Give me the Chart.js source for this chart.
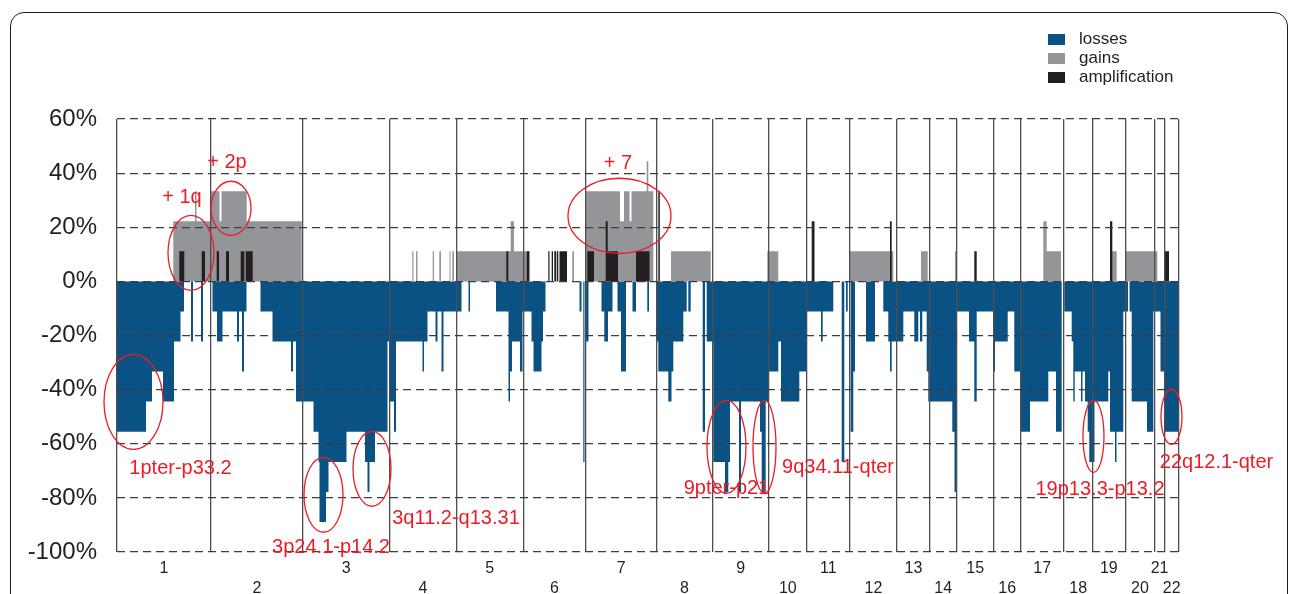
<!DOCTYPE html>
<html>
<head>
<meta charset="utf-8">
<title>Copy number changes</title>
<script src="https://cdn.jsdelivr.net/npm/chart.js"></script>
<style>
  html, body { margin: 0; padding: 0; background: #fff; overflow: hidden; }
  #wrap { position: relative; width: 1293px; height: 594px; }
  #frame {
    position: absolute; left: 10px; top: 12px; width: 1278px; height: 700px;
    border: 1.6px solid #231f20; border-radius: 14px; box-sizing: border-box;
  }
  #chart { position: absolute; left: 0; top: 0; }
</style>
</head>
<body>
<div id="wrap">
  <div id="frame"></div>
  <canvas id="chart" width="1293" height="594"></canvas>
</div>
<script>
// Genome axis: probe position along the genome (0 .. 1062)
const genomeEnd = 1062;
const chromNames = ["1", "2", "3", "4", "5", "6", "7", "8", "9", "10", "11",
    "12", "13", "14", "15", "16", "17", "18", "19", "20", "21", "22"];
const chromBounds = [0, 94, 185.7, 272.5, 339.3, 406.3, 468.7, 539.5, 595.3,
    652, 689.7, 733, 780, 813, 839.3, 877, 903.3, 947, 975.3, 1008.3, 1037.7,
    1047.5, 1062];

// Percentage tick labels
const yTicks = [60, 40, 20, 0, -20, -40, -60, -80, -100];

// Losses: [start, end, % of cases]
const lossSegments = [
    [0, 29, -55.6], [29, 35, -44.4], [35, 46, -33.3], [46, 57, -44.4],
    [57, 63.5, -22.2], [63.5, 67, -11.1], [74, 76, -22.2], [84, 86, -22.2],
    [95.5, 100, -11.1], [100, 105.5, -22.2], [105.5, 120, -11.1], [120, 122, -22.2],
    [122, 125, -11.1], [125, 127, -33.3], [127, 129.5, -11.1],
    [143.5, 155.5, -11.1], [155.5, 174, -22.2], [174, 176, -33.3], [176, 179, -22.2],
    [179, 196.5, -44.4], [196.5, 201.5, -55.6], [201.5, 202.5, -66.7],
    [202.5, 209, -88.9], [209, 211.5, -77.8], [211.5, 229.5, -66.7],
    [229.5, 248, -55.6], [248, 250.5, -66.7], [250.5, 252.5, -77.8],
    [252.5, 258, -66.7], [258, 270.5, -55.6], [270.5, 273, -22.2],
    [273, 277, -44.4], [277, 279, -55.6], [279, 305.5, -22.2], [305.5, 307, -33.3],
    [307, 310.5, -22.2], [310.5, 318.5, -11.1], [318.5, 320.5, -22.2],
    [320.5, 324.5, -11.1], [324.5, 326.5, -33.3], [326.5, 338.5, -11.1],
    [338.5, 344.5, -11.1], [351.5, 353, -11.1],
    [379, 391.5, -11.1], [391.5, 393, -44.4], [393, 395, -33.3], [395, 403, -22.2],
    [403, 405.5, -33.3], [405.5, 414.5, -11.1], [414.5, 416.5, -22.2],
    [416.5, 424.5, -33.3], [424.5, 426, -22.2], [426, 428.5, -11.1],
    [462.5, 464.5, -11.1], [466.3, 467.5, -66.7], [468.5, 471.5, -22.2],
    [484.5, 487.3, -11.1], [487.3, 491, -22.2], [491, 495.5, -11.1],
    [500.5, 504, -11.1], [504, 509, -33.3], [515.5, 519, -11.1], [530.3, 532, -11.1],
    [539.5, 541.3, -22.2], [541.3, 551.3, -33.3], [551.3, 554.5, -44.4],
    [554.5, 556.3, -33.3], [556.3, 566.3, -22.2], [566.3, 569.7, -11.1],
    [571.3, 573.7, -11.1], [585.7, 588, -55.6], [589.7, 596.3, -22.2],
    [596.3, 608, -66.7], [608, 611.3, -77.8], [611.3, 613, -66.7], [613, 622, -44.4],
    [622, 624, -77.8], [624, 643, -44.4], [643, 644.7, -55.6], [644.7, 648.7, -77.8],
    [648.7, 651.3, -44.4], [651.3, 661.3, -33.3], [661.3, 664, -22.2],
    [664, 682.3, -44.4], [682.3, 689.7, -33.3],
    [689.7, 704, -11.1], [704, 705.7, -22.2], [705.7, 716.3, -11.1],
    [724.7, 727.3, -66.7], [729, 730.7, -11.1], [733.7, 736.3, -55.6],
    [736.3, 738, -33.3], [749, 758, -22.2], [766.3, 771.3, -11.1],
    [771.3, 773, -22.2], [773, 774.7, -33.3], [774.7, 786.3, -22.2],
    [786.3, 797.3, -11.1], [797.3, 801.3, -22.2], [801.3, 803, -11.1],
    [803, 805.3, -22.2], [805.3, 809.7, -11.1], [809.7, 811.3, -33.3],
    [811.3, 835.3, -44.4], [835.3, 837.5, -55.6], [837.5, 839, -77.8],
    [839, 852, -11.1], [852, 857.3, -22.2], [857.3, 859.7, -44.4],
    [859.7, 876.3, -11.1], [876.3, 878, -33.3], [878, 890.7, -22.2],
    [890.7, 897.3, -11.1], [897.3, 903, -33.3], [903, 913, -55.6],
    [913, 931.3, -44.4], [931.3, 939, -33.3], [939, 944.7, -55.6],
    [947.3, 954.7, -11.1], [954.7, 956.3, -22.2], [956.3, 957.7, -44.4],
    [957.7, 964, -33.3], [964, 965.5, -44.4], [965.5, 968, -33.3],
    [968, 970.7, -44.4], [970.7, 972.3, -55.6], [972.3, 977.5, -66.7],
    [977.5, 991.3, -44.4], [991.3, 993, -33.3], [993, 998, -55.6],
    [998, 999.5, -66.7], [999.5, 1006.3, -55.6], [1006.3, 1011, -11.1],
    [1012.5, 1014.7, -11.1], [1014.7, 1030, -44.4], [1030, 1036.3, -55.6],
    [1036.3, 1043.5, -11.1], [1043.5, 1047.5, -33.3], [1047.5, 1061.5, -55.6],
];

// Gains: [start, end, % of cases]
const gainSegments = [
    [56.3, 78, 22.2], [78, 79.5, 33.3], [79.5, 94, 22.2], [94, 102.5, 33.3],
    [102.5, 104.5, 22.2], [104.5, 129.7, 33.3], [129.7, 184.7, 22.2],
    [295.3, 296.5, 11.1], [299, 300.5, 11.1], [315.7, 317, 11.1],
    [322.3, 324, 11.1], [332.5, 333.5, 11.1], [335.3, 337, 11.1],
    [339.7, 393.7, 11.1], [393.7, 397, 22.2], [397, 412.5, 11.1],
    [455.3, 457, 11.1], [468.7, 503, 33.3], [503, 507, 22.2], [507, 512.5, 33.3],
    [512.5, 514.5, 22.2], [514.5, 529.7, 33.3], [529.7, 531.3, 44.4],
    [531.3, 536.3, 33.3], [554, 593.7, 11.1], [650.3, 661.3, 11.1],
    [733, 776.3, 11.1], [804, 810.7, 11.1], [838, 839.3, 11.1],
    [926.3, 929.7, 22.2], [929.7, 944, 11.1], [993, 999.7, 11.1],
    [1008.3, 1040.3, 11.1],
];

// Amplifications: [start, end, % of cases]
const ampSegments = [
    [62.3, 67.3, 11.1], [84.7, 88, 11.1], [99.7, 102, 11.1], [109, 112, 11.1],
    [123.7, 127.3, 11.1], [128.7, 135.7, 11.1], [389.3, 391.3, 11.1],
    [409.7, 412.3, 11.1], [431.3, 432.5, 11.1], [434.7, 436, 11.1],
    [437.3, 439, 11.1], [439.7, 441.3, 11.1], [442.5, 450, 11.1],
    [470.3, 477, 11.1], [488.7, 490.7, 22.2], [490.7, 501, 11.1],
    [519, 532.5, 11.1], [541.3, 542.8, 33.3], [694.7, 697.5, 22.2],
    [773, 774.7, 22.2], [857.3, 859.7, 11.1], [993, 995.3, 22.2],
    [1047.5, 1052, 11.1],
];

// Red annotations: ellipse [xFrom, xTo, yTop, yBottom]
const ellipses = [
    [94, 134, 37.0, 17.0],
    [51, 97, 24.4, -3.3],
    [-13, 46, -27.0, -62.1],
    [187, 226, -65.0, -92.7],
    [236, 274, -55.4, -83.1],
    [451, 554, 38.1, 10.3],
    [590, 629, -44.0, -78.3],
    [636, 659, -44.0, -78.3],
    [966, 987, -44.0, -70.6],
    [1044, 1065, -39.9, -60.2],
];
const noteTexts = ["+ 2p", "+ 1q", "1pter-p33.2", "3p24.1-p14.2", "3q11.2-q13.31",
    "+ 7", "9pter-p21", "9q34.11-qter", "19p13.3-p13.2", "22q12.1-qter"];
const noteX = [110, 65, 63.5, 214, 339, 501, 609.5, 721, 983, 1099.5];
const noteY = [44.0, 31.0, -69.1, -98.3, -87.6, 43.6, -76.5, -68.7, -76.9, -66.9];

const FONT = '"Liberation Sans", Arial, sans-serif';
const INK = "#231f20";
const RED = "#ed1c24";

// Turn [start, end, value] segments into a stepped profile
function toSteps(segments) {
    const points = [{ x: 0, y: 0 }];
    segments.forEach(([start, end, value]) => {
        points.push({ x: start, y: value });
        points.push({ x: end, y: 0 });
    });
    points.push({ x: genomeEnd, y: 0 });
    return points;
}

function stepDataset(label, segments, color, order) {
    return {
        label: label,
        data: toSteps(segments),
        stepped: true,
        fill: "origin",
        backgroundColor: color,
        borderColor: color,
        borderWidth: 0,
        pointRadius: 0,
        order: order,
    };
}

// Annotations and legend
const overlayPlugin = {
    id: "overlay",
    afterDraw(chart) {
        const ctx = chart.ctx;
        const xs = chart.scales.x;
        const ys = chart.scales.y;
        ctx.save();

        ctx.strokeStyle = RED;
        ctx.lineWidth = 1.3;
        ellipses.forEach(([x0, x1, y0, y1]) => {
            const left = xs.getPixelForValue(x0);
            const right = xs.getPixelForValue(x1);
            const top = ys.getPixelForValue(y0);
            const bottom = ys.getPixelForValue(y1);
            ctx.beginPath();
            ctx.ellipse((left + right) / 2, (top + bottom) / 2,
                (right - left) / 2, (bottom - top) / 2, 0, 0, Math.PI * 2);
            ctx.stroke();
        });

        ctx.fillStyle = RED;
        ctx.font = "20px " + FONT;
        ctx.textAlign = "center";
        ctx.textBaseline = "middle";
        noteTexts.forEach((text, i) => {
            ctx.fillText(text, xs.getPixelForValue(noteX[i]), ys.getPixelForValue(noteY[i]));
        });

        // legend, top right
        ctx.font = "17px " + FONT;
        ctx.textAlign = "left";
        chart.data.datasets.forEach((ds, i) => {
            const top = 34 + i * 19;
            ctx.fillStyle = ds.backgroundColor;
            ctx.fillRect(1048, top, 17, 11);
            ctx.fillStyle = INK;
            ctx.fillText(ds.label, 1079, top + 5.5);
        });
        ctx.restore();
    },
};

new Chart(document.getElementById("chart"), {
    type: "line",
    data: {
        datasets: [
            stepDataset("losses", lossSegments, "#0a5283", 2),
            stepDataset("gains", gainSegments, "#939598", 1),
            stepDataset("amplification", ampSegments, "#231f20", 0),
        ],
    },
    options: {
        responsive: false,
        animation: false,
        layout: { padding: { top: 119, right: 114, left: 0, bottom: 0 } },
        plugins: { legend: { display: false }, tooltip: { enabled: false } },
        scales: {
            x: {
                type: "linear",
                min: 0,
                max: genomeEnd,
                afterBuildTicks: (axis) => {
                    axis.ticks = chromBounds.map((v) => ({ value: v }));
                },
                afterFit: (axis) => { axis.height = 0; },
                ticks: { display: false, autoSkip: false },
                grid: { color: "#4d4d4f", lineWidth: 1.3, drawTicks: false, z: 1 },
                border: { display: false },
            },
            x2: {
                type: "linear",
                position: "bottom",
                min: 0,
                max: genomeEnd,
                afterBuildTicks: (axis) => {
                    axis.ticks = chromNames.map((n, i) => ({
                        value: (chromBounds[i] + chromBounds[i + 1]) / 2,
                    }));
                },
                afterFit: (axis) => { axis.height = 42; },
                grid: { display: false, drawTicks: false },
                border: { display: false },
                ticks: {
                    autoSkip: false,
                    maxRotation: 0,
                    padding: 7,
                    color: INK,
                    font: { family: FONT, size: 16, lineHeight: 1.25 },
                    callback: (value, index) =>
                        index % 2 === 0 ? chromNames[index] : ["", chromNames[index]],
                },
            },
            y: {
                min: -100,
                max: 60,
                afterBuildTicks: (axis) => {
                    axis.ticks = yTicks.map((v) => ({ value: v }));
                },
                afterFit: (axis) => { axis.width = 117; },
                ticks: {
                    padding: 20,
                    color: INK,
                    font: { family: FONT, size: 24 },
                    callback: (v) => v + "%",
                },
                grid: { color: "#3d3d3f", lineWidth: 1.2, drawTicks: false, z: 1 },
                border: { display: false, dash: [8, 5] },
            },
        },
    },
    plugins: [overlayPlugin],
});
</script>
</body>
</html>
